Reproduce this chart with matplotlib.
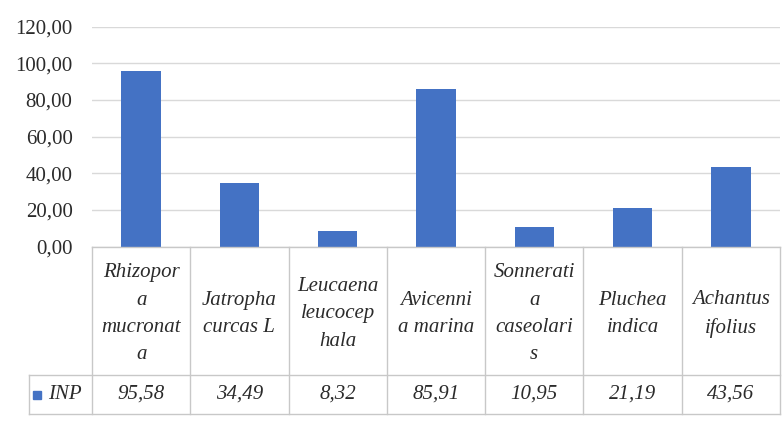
import matplotlib
matplotlib.use('Agg')
import matplotlib.pyplot as plt

species = ['Rhizopor\na\nmucronat\na', 'Jatropha\ncurcas L', 'Leucaena\nleucocep\nhala',
           'Avicenni\na marina', 'Sonnerati\na\ncaseolari\ns', 'Pluchea\nindica', 'Achantus\nifolius']
inp = [95.58, 34.49, 8.32, 85.91, 10.95, 21.19, 43.56]
series_name = 'INP'
yticks = [0, 20, 40, 60, 80, 100, 120]

BLUE = '#4472C4'
GRID = '#D9D9D9'
BORDER = '#C8C8C8'
TXT = '#2b2b2b'
W, H = 783, 421

plt.rcParams['font.family'] = ['Liberation Serif', 'DejaVu Serif']

fig = plt.figure(figsize=(W / 100, H / 100), dpi=100)

# plot area in pixel coords
x0, x1 = 92, 780
y_top, y_axis = 26.7, 246.7
y_row, y_bot = 375, 414
x_leg = 29

ax = fig.add_axes([x0 / W, 1 - y_axis / H, (x1 - x0) / W, (y_axis - y_top) / H])
n = len(species)
ax.bar(range(n), inp, width=0.4, color=BLUE, zorder=3)
ax.set_xlim(-0.5, n - 0.5)
ax.set_ylim(0, 120)
ax.set_yticks(yticks)
ax.set_yticklabels([f'{v:.2f}'.replace('.', ',') for v in yticks], fontsize=15, color=TXT)
ax.tick_params(axis='y', length=0, pad=14)
ax.set_xticks([])
ax.grid(axis='y', color=GRID, linewidth=1, zorder=0)
for s in ax.spines.values():
    s.set_visible(False)

# data table below the chart
tab = fig.add_axes([x_leg / W, 1 - y_bot / H, (x1 - x_leg) / W, (y_bot - y_axis) / H])
col_w = (x1 - x0) / n
leg_w = (x0 - x_leg) / col_w
tab.set_xlim(-0.5 - leg_w, n - 0.5)
tab.set_ylim(y_bot, y_axis)
tab.axis('off')
kw = dict(color=BORDER, linewidth=1, clip_on=False)
tab.plot([-0.5, n - 0.5], [y_axis, y_axis], **kw)
tab.plot([-0.5 - leg_w, n - 0.5], [y_row, y_row], **kw)
tab.plot([-0.5 - leg_w, n - 0.5], [y_bot, y_bot], **kw)
tab.plot([-0.5 - leg_w, -0.5 - leg_w], [y_row, y_bot], **kw)
for i in range(n + 1):
    tab.plot([i - 0.5, i - 0.5], [y_axis, y_bot], **kw)

for i, (name, v) in enumerate(zip(species, inp)):
    tab.text(i, (y_axis + y_row) / 2 + 3, name, ha='center', va='center', fontsize=15,
             style='italic', color=TXT, linespacing=1.6)
    tab.text(i, (y_row + y_bot) / 2, f'{v:.2f}'.replace('.', ','), ha='center', va='center',
             fontsize=15, style='italic', color=TXT)

tab.plot([-0.5 - leg_w + 0.08], [(y_row + y_bot) / 2], marker='s', markersize=6,
         color=BLUE, linestyle='none', clip_on=False)
tab.text(-0.5 - leg_w + 0.19, (y_row + y_bot) / 2, series_name, ha='left', va='center',
         fontsize=15, style='italic', color=TXT)

fig.savefig('out.png', dpi=100)
